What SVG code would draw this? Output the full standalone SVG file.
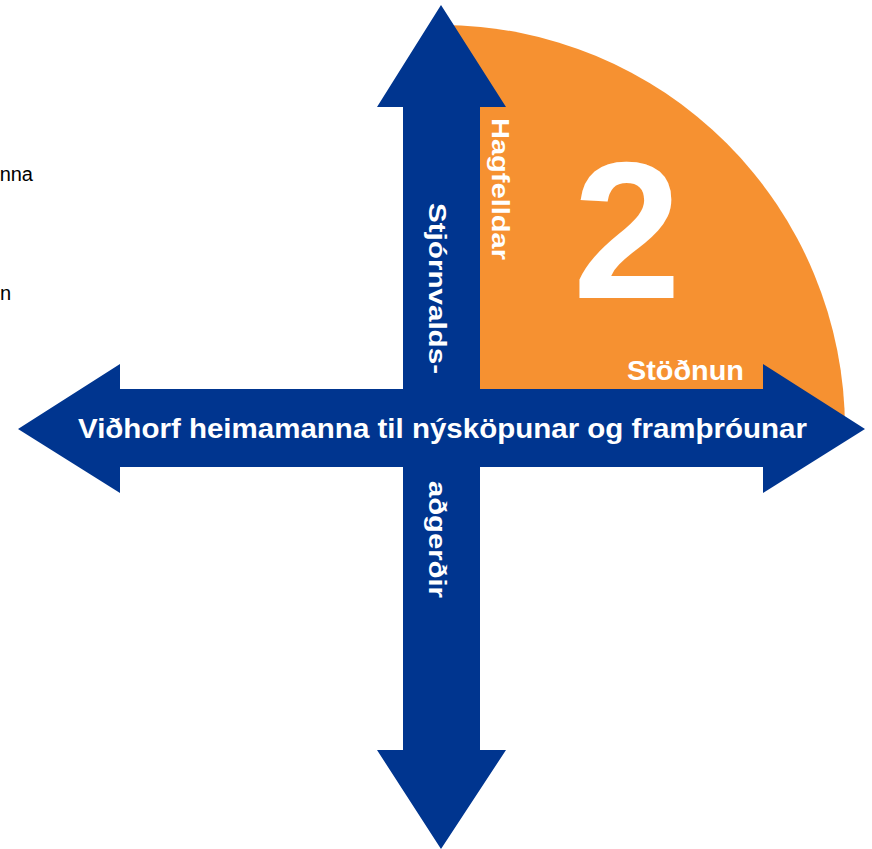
<svg xmlns="http://www.w3.org/2000/svg" width="872" height="849" viewBox="0 0 872 849">
<style>
.blue{fill:#00358F}
.orange{fill:#F69131}
.lbl{font-family:"Liberation Sans",Arial,sans-serif;font-weight:bold;fill:#FFFFFF}
.side{font-family:"Liberation Sans",Arial,sans-serif;fill:#000000;font-size:20px}
</style>
<rect width="872" height="849" fill="#FFFFFF"/>
<g id="quadrant2">
<path class="orange" d="M441,429 L441,25 A404,404 0 0 1 845,429 Z"/>
<text class="lbl" x="627" y="298" text-anchor="middle" font-size="195">2</text>
<text class="lbl" font-size="23" transform="translate(492,118) rotate(90)" textLength="142" lengthAdjust="spacingAndGlyphs">Hagfelldar</text>
<text class="lbl" font-size="28" x="627" y="380" textLength="117" lengthAdjust="spacingAndGlyphs">Stöðnun</text>
</g>
<g id="connectors">
<path id="vertical-arrow" class="blue" d="M441,5 L506,107 L480,107 L480,750 L506,750 L441,849 L377,750 L403,750 L403,107 L377,107 Z"/>
<path id="horizontal-arrow" class="blue" d="M18,429 L120,364 L120,389 L763,389 L763,364 L865,429 L763,493 L763,467 L120,467 L120,493 Z"/>
</g>
<g id="labels">
<text class="lbl" font-size="28" x="78" y="438" textLength="729" lengthAdjust="spacingAndGlyphs">Viðhorf heimamanna til nýsköpunar og framþróunar</text>
<text class="lbl" font-size="23" transform="translate(429,203) rotate(90)" textLength="171" lengthAdjust="spacingAndGlyphs">Stjórnvalds-</text>
<text class="lbl" font-size="23" transform="translate(429,481) rotate(90)" textLength="117" lengthAdjust="spacingAndGlyphs">aðgerðir</text>
</g>
<g id="side-text">
<text class="side" x="33" y="181" text-anchor="end">nna</text>
<text class="side" x="0" y="300">n</text>
</g>
</svg>
